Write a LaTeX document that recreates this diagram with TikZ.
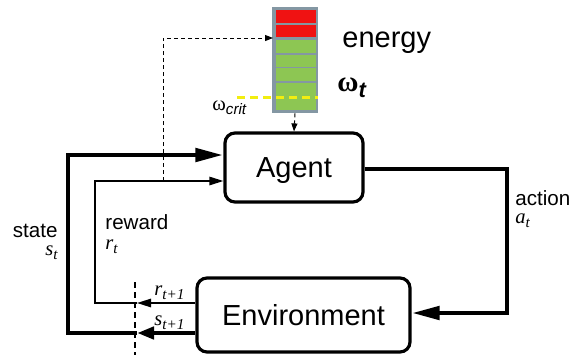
\documentclass[tikz,border=0pt]{standalone}
\usepackage{fontspec}
\setmainfont{Liberation Sans}
\newfontfamily\serif{Liberation Serif}
\usepackage{tikz}
\usetikzlibrary{arrows.meta,positioning}
\definecolor{barred}{HTML}{F01212}
\definecolor{bargreen}{HTML}{8DC653}
\definecolor{bargray}{HTML}{8497A3}
\definecolor{critline}{HTML}{F2EE10}
\newcommand{\bigtext}{\fontsize{14.5}{17}\selectfont}
\newcommand{\smalltext}{\fontsize{10.3}{12}\selectfont}
\newcommand{\lowidx}[1]{\raisebox{-0.45ex}{\fontsize{7.6}{8}\selectfont #1}}
\newcommand{\var}[2]{{\serif\itshape #1\lowidx{#2}}}

\begin{document}
\begin{tikzpicture}[
  x=0.5pt, y=-0.5pt,
  box/.style={draw, line width=1.6pt, rounded corners=5pt, font=\bigtext,
              text height=10.4pt, text depth=0pt, inner sep=0pt},
  lbl/.style={inner sep=0pt, font=\smalltext},
  heavy/.style={line width=2.4pt},
  heavyarr/.style={heavy, -{Triangle[length=14pt,width=6.5pt]}},
  midarr/.style={heavy, -{Triangle[length=8.5pt,width=6pt]}},
  lightarr/.style={line width=0.8pt, -{Triangle[length=7pt,width=4.2pt]}},
  dasharr/.style={line width=0.5pt, dash pattern=on 2pt off 1.5pt,
                  -{Triangle[length=4pt,width=3pt]}},
  gate/.style={line width=0.6pt, dash pattern=on 3pt off 2pt}
]
\useasboundingbox (0,0) rectangle (569,355);

% boxes
\node[box, minimum width=69pt, minimum height=34.5pt] (agent) at (294,167.5) {Agent};
\node[box, minimum width=106.5pt, minimum height=37pt] (env) at (303.5,315) {Environment};

% energy bar
\node[draw=bargray, fill=bargray, line width=0.8pt, inner sep=0pt,
      minimum width=22pt, minimum height=52.5pt] (bar) at (295,60) {};
\foreach \top/\bot/\col in {10/23/barred, 25/37/barred, 40/53/bargreen,
                            54.5/66.5/bargreen, 68/81/bargreen, 83/110/bargreen}
  \fill[\col] (275.5,\top) rectangle (315.5,\bot);
\draw[critline, line width=1.5pt, dash pattern=on 4pt off 2.5pt] (237,97) -- (318,97);
\node[lbl, anchor=base west] (crit) at (212,110) {{\serif ω}\lowidx{\itshape crit}};
\node[inner sep=0pt, font=\bigtext, anchor=base west] (energy) at (342,47) {energy};
\node[inner sep=0pt, font=\bigtext, anchor=base west] (omega) at (337,91)
  {{\serif\bfseries ω}\raisebox{-0.4ex}{\fontsize{11}{12}\selectfont\bfseries\itshape t}};

% helper points
\coordinate (sgate) at (137,333);
\coordinate (scorner) at (68,155);
\coordinate (rgate) at (137,303);
\coordinate (rcorner) at (95,181);
\coordinate (tap) at (163,181);
\coordinate (barin) at (273,38);
\coordinate (atop) at (507,169);
\coordinate (abot) at (507,313);

% state
\draw[midarr] (env.west |- sgate) -- (sgate);
\draw[heavyarr] (sgate) -| (scorner) -- (agent.west |- scorner);
% reward
\draw[lightarr] (env.west |- rgate) -- (rgate);
\draw[lightarr] (rgate) -| (rcorner) -- (agent.west |- rcorner);
% action
\draw[heavyarr] (agent.east |- atop) -- (atop) -- (abot) -- (env.east |- abot);
% energy signal
\draw[dasharr] (tap) |- (barin);
\draw[dasharr] (bar.south) -- (agent.north);
\draw[gate] (135,282) -- (135,355);

% labels
\node[lbl, anchor=base east] (state) at (58,237) {state};
\node[lbl, anchor=base east] (st) at (58,255) {\var{s}{t}};
\node[lbl, anchor=base west] (reward) at (105,229) {reward};
\node[lbl, anchor=base west] (rt) at (105,249) {\var{r}{t}};
\node[lbl, anchor=base west] (action) at (515,205) {action};
\node[lbl, anchor=base west] (at) at (515,223) {\var{a}{t}};
\node[lbl, anchor=base west] (rnext) at (154,295) {\var{r}{t+1}};
\node[lbl, anchor=base west] (snext) at (154,325) {\var{s}{t+1}};
\end{tikzpicture}
\end{document}
